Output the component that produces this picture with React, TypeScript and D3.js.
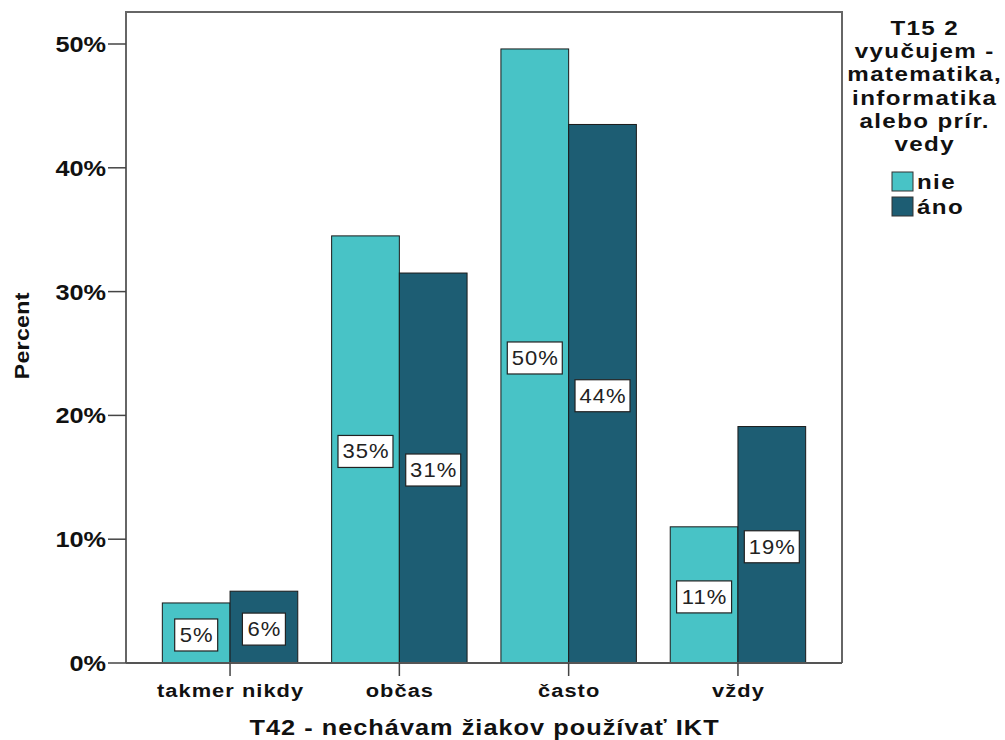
import React from "react";
import * as d3 from "d3";

const categories = ["takmer nikdy", "občas", "často", "vždy"];
const seriesNames = ["nie", "áno"];
const nieValues = [4.85, 34.5, 49.6, 11.0];
const anoValues = [5.8, 31.5, 43.5, 19.1];
const valueLabels = [["5%", "6%"], ["35%", "31%"], ["50%", "44%"], ["11%", "19%"]];
const yTicks = [0, 10, 20, 30, 40, 50];
const legendTitle = ["T15 2", "vyučujem -", "matematika,", "informatika", "alebo prír.", "vedy"];
const colors = ["#48c3c6", "#1d5d73"];

const W = 1005, H = 740;
const plotL = 126, plotR = 842, plotT = 12, plotB = 663;

function ST(props: { x: number; y: number; sx?: number; rot?: number; anchor?: string; size: number; bold?: boolean; ls?: number; fill?: string; children: React.ReactNode }) {
  const { x, y, sx = 1.15, rot = 0, anchor = "start", size, bold = true, ls = 0, fill = "#111", children } = props;
  const shift = anchor === "middle" ? ls / 2 : anchor === "end" ? ls : 0;
  return (
    <text
      transform={`translate(${x},${y}) rotate(${rot}) scale(${sx},1)`}
      x={shift}
      y={0}
      textAnchor={anchor}
      fontSize={size}
      fontWeight={bold ? "bold" : "normal"}
      letterSpacing={ls}
      fill={fill}
    >
      {children}
    </text>
  );
}

export default function App() {
  const y = d3.scaleLinear().domain([0, 50]).range([plotB, 44]);
  const x = d3.scaleBand<string>().domain(categories).range([145.4, 822.6]).paddingInner(0.2).paddingOuter(0.1);
  const xs = d3.scaleBand<string>().domain(seriesNames).range([0, x.bandwidth()]);
  const series = [nieValues, anoValues];
  const font = "'Liberation Sans', Arial, sans-serif";

  return (
    <svg width={W} height={H} style={{ position: "absolute", left: 0, top: 0, background: "#fff" }} fontFamily={font}>
      <rect x={0} y={0} width={W} height={H} fill="#fff" />
      {/* frame */}
      <path d={`M${plotL},${plotB} V${plotT} H${plotR} V${plotB}`} fill="none" stroke="#666" strokeWidth={2} />
      {/* bars */}
      {categories.map((c, i) =>
        seriesNames.map((s, j) => {
          const v = series[j][i];
          const bx = (x(c) as number) + (xs(s) as number);
          const by = y(v);
          const bw = xs.bandwidth();
          const bh = plotB - by;
          return (
            <rect key={c + s} x={bx} y={by} width={bw} height={bh} fill={colors[j]} stroke="#1a1a1a" strokeWidth={1} />
          );
        })
      )}
      {/* value labels */}
      {categories.map((c, i) =>
        seriesNames.map((s, j) => {
          const v = series[j][i];
          const cx = (x(c) as number) + (xs(s) as number) + xs.bandwidth() / 2;
          const cy = (y(v) + plotB) / 2 + 2;
          const lab = valueLabels[i][j];
          const bw = lab.length === 2 ? 43 : 55;
          return (
            <g key={"l" + c + s}>
              <rect x={cx - bw / 2} y={cy - 16} width={bw} height={32} fill="#fff" stroke="#222" strokeWidth={1.2} />
              <ST x={cx} y={cy + 7} anchor="middle" size={20} bold={false} sx={1.1} ls={1} fill="#222">{lab}</ST>
            </g>
          );
        })
      )}
      {/* x axis line */}
      <line x1={plotL} x2={plotR} y1={plotB} y2={plotB} stroke="#555" strokeWidth={2} />
      {/* y ticks */}
      {yTicks.map((t) => (
        <g key={"yt" + t}>
          <line x1={108} x2={plotL} y1={y(t)} y2={y(t)} stroke="#444" strokeWidth={1.5} />
          <ST x={106} y={y(t) + 8} anchor="end" size={22} ls={0}>{t}%</ST>
        </g>
      ))}
      {/* x ticks */}
      {categories.map((c) => {
        const cx = (x(c) as number) + x.bandwidth() / 2;
        return (
          <g key={"xt" + c}>
            <line x1={cx} x2={cx} y1={plotB} y2={676} stroke="#444" strokeWidth={1.5} />
            <ST x={cx} y={697} anchor="middle" size={19} ls={0.9}>{c}</ST>
          </g>
        );
      })}
      {/* axis titles */}
      <ST x={484} y={735} anchor="middle" size={22} ls={0.9}>T42 - nechávam žiakov používať IKT</ST>
      <ST x={29} y={336} rot={-90} anchor="middle" size={21} sx={1.1} ls={0.3}>Percent</ST>
      {/* legend */}
      {legendTitle.map((l, i) => (
        <ST key={"lt" + i} x={924} y={35 + i * 23.2} anchor="middle" size={21} ls={1.2}>{l}</ST>
      ))}
      {seriesNames.map((s, j) => (
        <g key={"lg" + s}>
          <rect x={892} y={172 + j * 25} width={21} height={19} fill={colors[j]} stroke="#333" strokeWidth={1} />
          <ST x={917} y={189 + j * 25} size={21} ls={1.2}>{s}</ST>
        </g>
      ))}
    </svg>
  );
}
